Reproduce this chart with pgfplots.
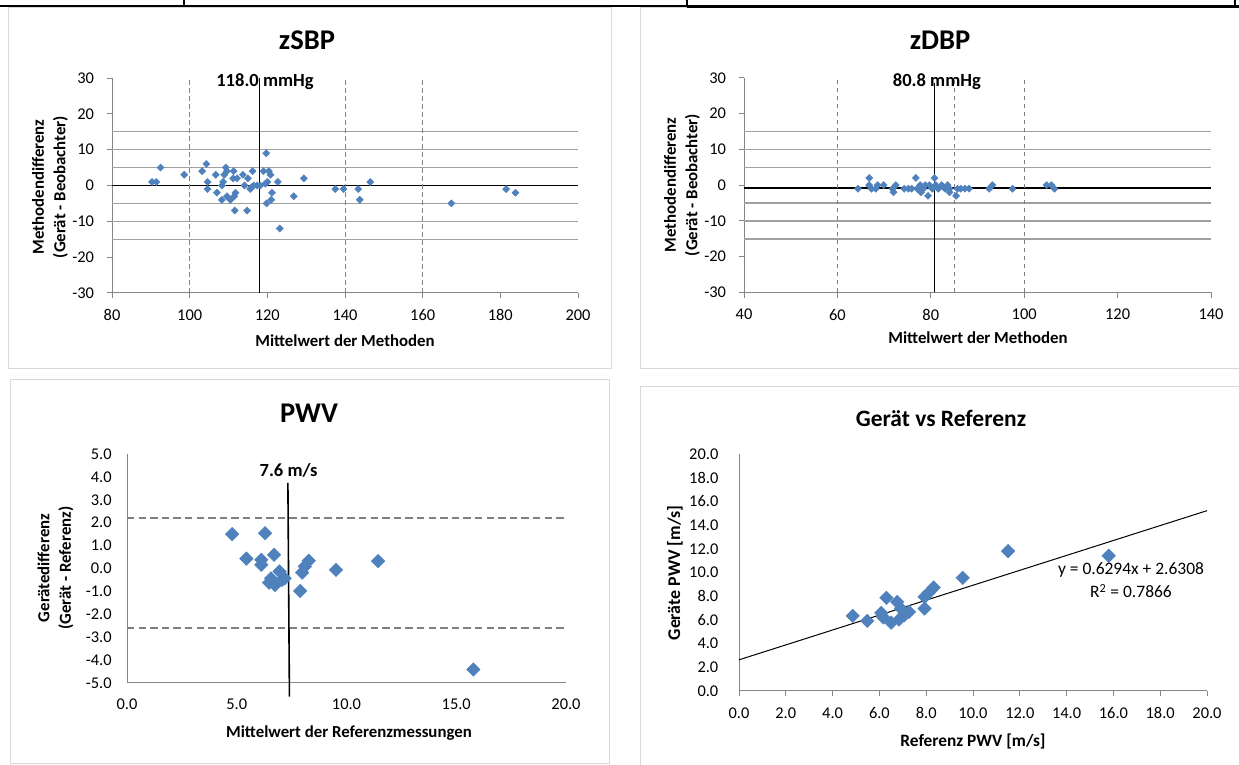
\documentclass[border=0pt]{standalone}
\usepackage{fontspec}
\setmainfont{Carlito}
\usepackage{pgfplots}
\pgfplotsset{compat=1.18}
\definecolor{mk}{HTML}{4F81BD}
\definecolor{axgray}{HTML}{868686}
\definecolor{hgray}{HTML}{A0A0A0}
\definecolor{dgray}{HTML}{808080}
\definecolor{framec}{HTML}{D9D9D9}
\pgfplotsset{
  common/.style={
    scale only axis, anchor=south west,
    axis x line=bottom, axis y line=left,
    axis line style={draw=axgray, line width=0.75bp, -},
    /pgf/number format/assume math mode=true,
    tick label style={font=\fontsize{12.3bp}{14bp}\selectfont, text=black},
    major tick style={draw=axgray, line width=0.75bp},
    tick align=outside,
    major tick length=4bp,
    clip=false,
  },
  smallmk/.style={only marks, mark=square*, mark size=1.9bp, mark options={rotate=45, fill=mk, draw=mk, line width=0.3bp}},
  bigmk/.style={only marks, mark=square*, mark size=3.6bp, mark options={rotate=45, fill=mk, draw=mk, line width=0.3bp}},
  hline/.style={hgray, line width=1.1bp},
  vdash/.style={dgray, line width=0.75bp, dash pattern=on 3.4bp off 2.6bp},
}
\begin{document}
\begin{tikzpicture}
\path[use as bounding box, fill=white] (0,0) rectangle (929.25bp,573.75bp);
\begin{scope}[x=0.75bp,y=-0.75bp,yshift=573.75bp]
\draw[framec, line width=0.75bp] (8,8) rectangle (611,369);
\draw[framec, line width=0.75bp] (640,8) rectangle (1245,369);
\draw[framec, line width=0.75bp] (10,380) rectangle (609,764);
\draw[framec, line width=0.75bp] (640,387) rectangle (1245,770);
\draw[black, line width=1.1bp] (0,6) -- (687,6);
\draw[black, line width=2bp] (687,6.5) -- (1239,6.5);
\draw[black, line width=1.1bp] (184,0) -- (184,6);
\draw[black, line width=1.8bp] (687,0) -- (687,6);
\draw[black, line width=1.3bp] (1235,0) -- (1235,7);
\end{scope}

% ---------- Panel 1: zSBP ----------
\begin{axis}[common, at={(84bp,354bp)}, width=349.5bp, height=161.25bp,
  xmin=80, xmax=200, ymin=-30, ymax=30,
  xtick={80,100,...,200}, ytick={-30,-20,...,30},
  xticklabel shift=5bp, yticklabel shift=6bp]
\addplot[hline] coordinates {(80,15) (200,15)};
\addplot[hline] coordinates {(80,10) (200,10)};
\addplot[hline] coordinates {(80,5) (200,5)};
\addplot[hline] coordinates {(80,-5) (200,-5)};
\addplot[hline] coordinates {(80,-10) (200,-10)};
\addplot[hline] coordinates {(80,-15) (200,-15)};
\addplot[black, line width=1.2bp] coordinates {(80,0) (200,0)};
\addplot[vdash] coordinates {(100,-30) (100,30)};
\addplot[vdash] coordinates {(140.1,-30) (140.1,30)};
\addplot[vdash] coordinates {(160,-30) (160,30)};
\addplot[black, line width=1.2bp] coordinates {(118,-30) (118,30)};
\addplot[smallmk] coordinates {
(90.3,1) (91.4,1) (92.5,5) (98.6,3) (103.2,4) (104.3,6) (104.6,1) (104.6,-1)
(106.7,3) (107,-2) (108.3,0) (108.6,1) (108.3,-4) (108.9,3) (109.3,5) (109.6,4)
(109.6,-3) (110.5,-4) (111.3,4) (111.2,2) (111.5,-3) (111.8,-2) (111.6,-7) (112.2,2)
(113.7,3) (114.1,0) (114.8,-7) (115,2) (115.6,-1) (116.2,4) (115.9,-0.5) (116.5,0)
(117.4,0) (118.2,0) (119,4) (119.7,9) (119.5,0.5) (119.8,-5) (120,1) (120.4,4)
(120.8,3) (121.2,-2) (121,-4) (122.7,1) (123.2,-12) (126.8,-3) (129.4,2)
(137.5,-1) (139.6,-1) (143.4,-1) (143.8,-4) (146.5,1) (167.4,-5) (181.5,-1) (183.9,-2)};
\node[font=\bfseries\fontsize{13.9bp}{16bp}\selectfont] at (axis cs:119.4,29) {118.0 mmHg};
\end{axis}

% ---------- Panel 2: zDBP ----------
\begin{axis}[common, at={(558bp,354.4bp)}, width=350.25bp, height=161bp,
  xmin=40, xmax=140, ymin=-30, ymax=30,
  xtick={40,60,...,140}, ytick={-30,-20,...,30},
  xticklabel shift=5bp, yticklabel shift=6bp]
\addplot[hline] coordinates {(40,15) (140,15)};
\addplot[hline] coordinates {(40,10) (140,10)};
\addplot[hline] coordinates {(40,5) (140,5)};
\addplot[hline] coordinates {(40,-5) (140,-5)};
\addplot[hline] coordinates {(40,-10) (140,-10)};
\addplot[hline] coordinates {(40,-15) (140,-15)};
\addplot[black, line width=1.2bp] coordinates {(40,-0.8) (140,-0.8)};
\addplot[vdash] coordinates {(60,-30) (60,30)};
\addplot[vdash] coordinates {(85,-30) (85,30)};
\addplot[vdash] coordinates {(100,-30) (100,30)};
\addplot[black, line width=1.2bp] coordinates {(80.8,-30) (80.8,28.5)};
\addplot[smallmk] coordinates {
(64.4,-1) (66.8,2) (66.8,0) (67.3,-1) (68.2,-1) (68.6,0) (69.9,0) (71.8,-1)
(72,-2) (72.5,0) (74.3,-1) (75.2,-1) (75.9,-1) (76.8,2) (77.1,-1) (77.7,0)
(77.9,-2) (78.4,-1) (78.8,0) (79.4,-3) (79.7,0) (80.3,-1) (80.8,2) (81.1,0)
(81.6,-1) (82.3,0) (83,-1) (83.6,0) (84,-1) (84,-2) (85.4,-3) (85.7,-1)
(86.4,-1) (87.3,-1) (88.2,-1) (92.5,-1) (93.2,0) (97.5,-1) (104.8,0) (105.8,0) (106.5,-1)};
\node[font=\bfseries\fontsize{13.9bp}{16bp}\selectfont] at (axis cs:81.3,29) {80.8 mmHg};
\end{axis}

% ---------- Panel 3: PWV ----------
\begin{axis}[common, at={(95.25bp,61.5bp)}, width=329.25bp, height=171.75bp,
  xmin=0, xmax=20, ymin=-5, ymax=5,
  xtick={0,5,...,20}, ytick={-5,-4,...,5},
  major tick length=0pt,
  xticklabel shift=8bp, yticklabel shift=8bp,
  ticklabel style={/pgf/number format/fixed, /pgf/number format/fixed zerofill, /pgf/number format/precision=1}]
\addplot[dgray, line width=1.5bp, dash pattern=on 5.5bp off 3.2bp] coordinates {(0,2.2) (20,2.2)};
\addplot[dgray, line width=1.5bp, dash pattern=on 5.5bp off 3.2bp] coordinates {(0,-2.6) (20,-2.6)};
\addplot[black, line width=1.2bp] coordinates {(7.33,3.74) (7.40,-5.6)};
\addplot[bigmk] coordinates {
(4.79,1.50) (6.29,1.54) (5.44,0.43) (6.12,0.38) (6.12,0.16) (6.70,0.60)
(6.47,-0.62) (6.56,-0.43) (6.74,-0.72) (6.95,-0.13) (7.06,-0.50) (7.18,-0.43)
(7.89,-0.98) (7.98,-0.18) (8.10,0.09) (8.28,0.34) (9.52,-0.06) (11.44,0.32) (15.78,-4.41)};
\node[font=\bfseries\fontsize{13.9bp}{16bp}\selectfont] at (axis cs:7.36,4.3) {7.6 m/s};
\end{axis}

% ---------- Panel 4: Geraet vs Referenz ----------
\begin{axis}[common, at={(554.25bp,55.5bp)}, width=351bp, height=177.75bp,
  xmin=0, xmax=20, ymin=0, ymax=20,
  xtick={0,2,...,20}, ytick={0,2,...,20},
  ytick style={draw=none},
  xticklabel shift=5bp, yticklabel shift=8bp,
  ticklabel style={/pgf/number format/fixed, /pgf/number format/fixed zerofill, /pgf/number format/precision=1}]
\addplot[black, line width=0.75bp] coordinates {(0,2.6308) (20,15.2188)};
\addplot[bigmk] coordinates {
(4.86,6.34) (5.48,5.92) (6.08,6.59) (6.30,7.86) (6.17,6.20) (6.50,5.77)
(6.76,7.52) (6.84,6.03) (6.92,6.96) (7.06,6.39) (7.26,6.68) (7.93,6.96)
(7.93,7.94) (8.10,8.28) (8.32,8.73) (9.56,9.55) (11.50,11.80) (15.80,11.41)};
\end{axis}

% ---------- Texts ----------
\begin{scope}[x=0.75bp,y=-0.75bp,yshift=573.75bp]
\node[font=\bfseries\fontsize{21.4bp}{25bp}\selectfont] at (307,40) {zSBP};
\node[font=\bfseries\fontsize{21.4bp}{25bp}\selectfont] at (940,40) {zDBP};
\node[font=\bfseries\fontsize{21.4bp}{25bp}\selectfont] at (309,413) {PWV};
\node[font=\bfseries\fontsize{17.6bp}{21bp}\selectfont] at (941,418) {Gerät vs Referenz};
\node[font=\bfseries\fontsize{12.6bp}{15bp}\selectfont] at (345,341) {Mittelwert der Methoden};
\node[font=\bfseries\fontsize{12.6bp}{15bp}\selectfont] at (978,338) {Mittelwert der Methoden};
\node[font=\bfseries\fontsize{12.6bp}{15bp}\selectfont] at (349,733) {Mittelwert der Referenzmessungen};
\node[font=\bfseries\fontsize{13bp}{15bp}\selectfont] at (973,741) {Referenz PWV [m/s]};
\node[rotate=90, align=center, font=\bfseries\fontsize{12.6bp}{16.1bp}\selectfont] at (50,187) {Methodendifferenz\\(Gerät - Beobachter)};
\node[rotate=90, align=center, font=\bfseries\fontsize{12.6bp}{16.1bp}\selectfont] at (682,185) {Methodendifferenz\\(Gerät - Beobachter)};
\node[rotate=90, align=center, font=\bfseries\fontsize{12.6bp}{16.1bp}\selectfont] at (55.5,568) {Gerätedifferenz\\(Gerät - Referenz)};
\node[rotate=90, font=\bfseries\fontsize{13.4bp}{15bp}\selectfont] at (675,573) {Geräte PWV [m/s]};
\node[font=\fontsize{13.1bp}{15bp}\selectfont] at (1131,570) {y = 0.6294x + 2.6308};
\node[font=\fontsize{13.1bp}{15bp}\selectfont] at (1131,591) {R\textsuperscript{2} = 0.7866};
\end{scope}
\end{tikzpicture}
\end{document}
